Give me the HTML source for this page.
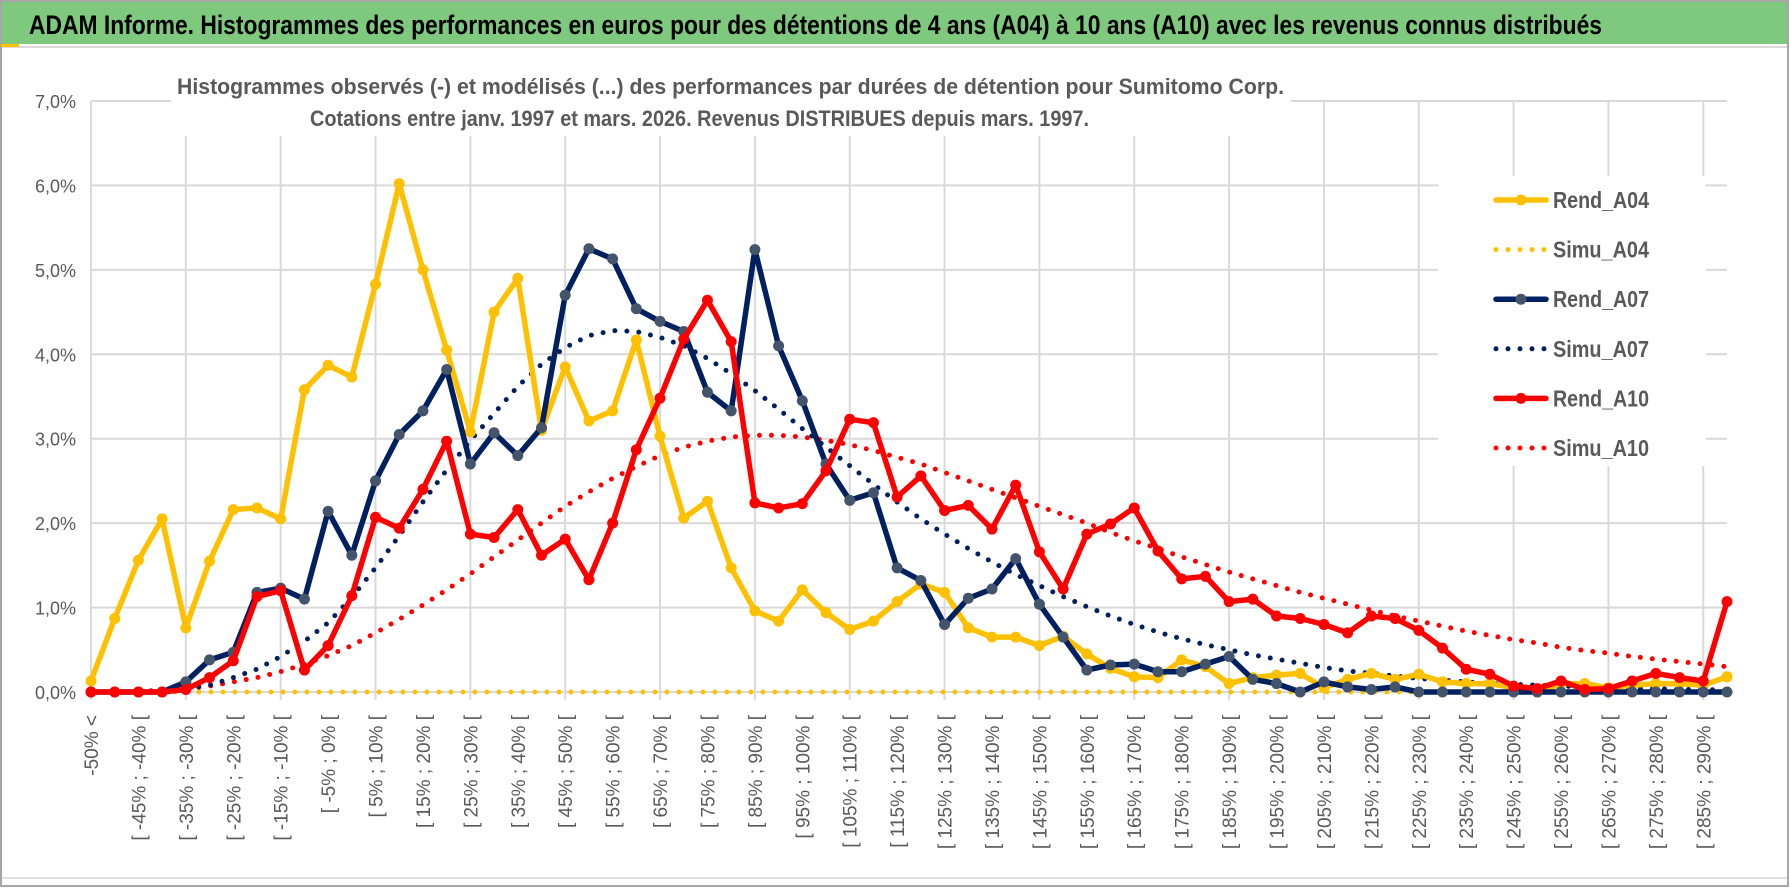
<!DOCTYPE html>
<html><head><meta charset="utf-8">
<style>
html,body{margin:0;padding:0;background:#fff;}
svg{display:block;font-family:"Liberation Sans",sans-serif;}
</style></head>
<body>
<svg id="chart" width="1790" height="888" viewBox="0 0 1790 888" xmlns="http://www.w3.org/2000/svg">
  <rect x="0" y="0" width="1790" height="888" fill="#fff"/>
  <rect x="1" y="1" width="1787" height="885" fill="none" stroke="#a6a6a6" stroke-width="2"/>
  <rect x="2" y="2" width="1785" height="42" fill="#7fc97f"/>
  <line x1="2" y1="47" x2="1787" y2="47" stroke="#d9d9d9" stroke-width="2"/>
  <rect x="1" y="44" width="18" height="3" fill="#ffc000"/>
  <text x="29" y="34" font-size="27" font-weight="bold" fill="#000" textLength="1573" lengthAdjust="spacingAndGlyphs">ADAM Informe. Histogrammes des performances en euros pour des détentions de 4 ans (A04) à 10 ans (A10) avec les revenus connus distribués</text>
  <line x1="2" y1="878" x2="1787" y2="878" stroke="#e0e0e0" stroke-width="2"/>
  <g id="grid"></g>
  <g id="yticks"></g>
  <g id="xticks"></g>
  <rect x="171" y="58" width="1120" height="78" fill="#fff"/>
  <text x="177" y="94" font-size="22" font-weight="bold" fill="#595959" textLength="1107" lengthAdjust="spacingAndGlyphs">Histogrammes observés (-) et modélisés (...) des performances par durées de détention pour Sumitomo Corp.</text>
  <text x="310" y="126" font-size="22" font-weight="bold" fill="#595959" textLength="779" lengthAdjust="spacingAndGlyphs">Cotations entre janv. 1997 et mars. 2026. Revenus DISTRIBUES depuis mars. 1997.</text>
  <g id="series"></g>
  <g id="legend"></g>
</svg>
<script>
const yTicks = [0,1,2,3,4,5,6,7];
const binStarts = [-50,-45,-40,-35,-30,-25,-20,-15,-10,-5,0,5,10,15,20,25,30,35,40,45,50,55,60,65,70,75,80,85,90,95,100,105,110,115,120,125,130,135,140,145,150,155,160,165,170,175,180,185,190,195,200,205,210,215,220,225,230,235,240,245,250,255,260,265,270,275,280,285,290];
const rendA04 = [0.13,0.87,1.56,2.05,0.76,1.55,2.16,2.18,2.05,3.58,3.87,3.73,4.83,6.02,5.0,4.05,3.08,4.5,4.9,3.1,3.85,3.21,3.33,4.17,3.03,2.06,2.26,1.47,0.96,0.84,1.21,0.94,0.74,0.84,1.07,1.28,1.18,0.76,0.65,0.65,0.55,0.66,0.45,0.28,0.18,0.17,0.38,0.30,0.10,0.17,0.20,0.22,0.05,0.15,0.22,0.15,0.21,0.12,0.10,0.10,0.05,0.0,0.10,0.10,0.05,0.08,0.10,0.10,0.08,0.18];
const simuA04 = [0,0,0,0,0,0,0,0,0,0,0,0,0,0,0,0,0,0,0,0,0,0,0,0,0,0,0,0,0,0,0,0,0,0,0,0,0,0,0,0,0,0,0,0,0,0,0,0,0,0,0,0,0,0,0,0,0,0,0,0,0,0,0,0,0,0,0,0,0,0];
const rendA07 = [0,0,0,0,0.12,0.38,0.47,1.18,1.23,1.1,2.14,1.62,2.5,3.05,3.33,3.82,2.7,3.07,2.8,3.13,4.7,5.25,5.13,4.54,4.39,4.27,3.55,3.33,5.24,4.1,3.45,2.7,2.27,2.36,1.47,1.32,0.8,1.11,1.22,1.58,1.04,0.65,0.26,0.32,0.33,0.24,0.24,0.33,0.42,0.15,0.10,0.0,0.12,0.06,0.03,0.06,0,0,0,0,0,0,0,0,0,0,0,0,0,0];
const simuA07 = [0,0,0,0.01,0.04,0.08,0.17,0.27,0.42,0.6,0.82,1.12,1.47,1.85,2.25,2.63,2.98,3.3,3.62,3.88,4.08,4.22,4.28,4.27,4.2,4.1,3.95,3.77,3.57,3.35,3.12,2.9,2.68,2.46,2.25,2.05,1.87,1.7,1.54,1.39,1.26,1.13,1.01,0.9,0.8,0.71,0.63,0.56,0.5,0.44,0.39,0.34,0.29,0.25,0.22,0.19,0.16,0.14,0.12,0.1,0.09,0.08,0.07,0.06,0.05,0.04,0.04,0.03,0.03,0.02];
const rendA10 = [0,0,0,0,0.03,0.17,0.37,1.13,1.2,0.26,0.55,1.14,2.07,1.94,2.4,2.97,1.87,1.83,2.16,1.62,1.81,1.33,2.0,2.87,3.48,4.18,4.64,4.15,2.24,2.18,2.23,2.62,3.23,3.19,2.31,2.56,2.15,2.21,1.93,2.45,1.66,1.22,1.87,1.99,2.18,1.67,1.34,1.37,1.07,1.1,0.9,0.87,0.8,0.7,0.9,0.87,0.73,0.52,0.27,0.21,0.07,0.04,0.13,0.03,0.04,0.13,0.22,0.17,0.13,1.07];
const simuA10 = [0,0,0.01,0.02,0.04,0.07,0.12,0.17,0.24,0.33,0.43,0.55,0.7,0.86,1.03,1.21,1.4,1.6,1.8,2.0,2.2,2.37,2.53,2.67,2.8,2.9,2.97,3.02,3.04,3.04,3.02,2.98,2.93,2.86,2.78,2.7,2.6,2.5,2.4,2.3,2.2,2.1,2.0,1.89,1.79,1.7,1.6,1.51,1.42,1.34,1.26,1.18,1.11,1.04,0.97,0.9,0.84,0.78,0.72,0.67,0.62,0.58,0.53,0.49,0.46,0.42,0.39,0.36,0.33,0.3];

const NS = "http://www.w3.org/2000/svg";
const X0 = 91, X1 = 1727, Y0 = 692, Y7 = 101;
const categories = ["-50% <"];
for (let i = 1; i < binStarts.length; i++) categories.push("[ " + binStarts[i-1] + "% ; " + binStarts[i] + "% [");
categories.push("[ 290% ; 295% [");
const n = rendA04.length;
function xPos(i){ return X0 + i * (X1 - X0) / (n - 1); }
function yPos(v){ return Y0 - v * (Y0 - Y7) / 7; }
function mk(tag, attrs, parent){ const e = document.createElementNS(NS, tag); for (const k in attrs) e.setAttribute(k, attrs[k]); parent.appendChild(e); return e; }

const grid = document.getElementById('grid');
yTicks.forEach(t => {
  const l = mk('line', {x1:X0, x2:X1, y1:yPos(t), y2:yPos(t), stroke:'#d9d9d9', 'stroke-width':2}, grid);
  
  
});
for (let i = 0; i < n; i += 4) {
  const l = mk('line', {x1:xPos(i), x2:xPos(i), y1:Y7, y2:Y0 + 8, stroke:'#d9d9d9', 'stroke-width':2}, grid);
  
  
}
const yt = document.getElementById('yticks');
yTicks.forEach(t => {
  const e = mk('text', {x:76, y:yPos(t) + 7, 'text-anchor':'end', 'font-size':18, fill:'#595959'}, yt);
  e.textContent = t.toFixed(1).replace('.', ',') + '%';
  
  
});
const xt = document.getElementById('xticks');
for (let i = 0; i < n; i += 2) {
  const x = xPos(i) + 7, y = 715;
  const e = mk('text', {x:x, y:y, transform:'rotate(-90 ' + x + ' ' + y + ')', 'text-anchor':'end', 'font-size':19, fill:'#595959'}, xt);
  e.textContent = categories[i];
  
  
}

const seriesG = document.getElementById('series');
function pts(arr){ return arr.map((v, i) => xPos(i).toFixed(1) + ',' + yPos(v).toFixed(1)).join(' '); }
function dotted(arr, color, name){
  const p = mk('polyline', {points:pts(arr), fill:'none', stroke:color, 'stroke-width':5, 'stroke-dasharray':'0 12', 'stroke-linecap':'round'}, seriesG);
  
  
}
function solid(arr, color, mcolor, name){
  const p = mk('polyline', {points:pts(arr), fill:'none', stroke:color, 'stroke-width':5.5, 'stroke-linejoin':'round'}, seriesG);
  
  
  arr.forEach((v, i) => {
    const c = mk('circle', {cx:xPos(i), cy:yPos(v), r:5.5, fill:mcolor}, seriesG);
    
    
  });
}
dotted(simuA04, '#ffc000', 'simu-a04-line');
dotted(simuA10, '#ff0000', 'simu-a10-line');
dotted(simuA07, '#002060', 'simu-a07-line');
solid(rendA04, '#ffc000', '#ffc000', 'rend-a04-line');
solid(rendA07, '#002060', '#44546a', 'rend-a07-line');
solid(rendA10, '#ff0000', '#ff0000', 'rend-a10-line');

const lg = document.getElementById('legend');
const bg = mk('rect', {x:1438, y:176, width:268, height:290, fill:'#fff'}, lg);


const legendNames = ['Rend_A04','Simu_A04','Rend_A07','Simu_A07','Rend_A10','Simu_A10'];
const legendColors = ['#ffc000','#ffc000','#002060','#002060','#ff0000','#ff0000'];
const legendMarker = ['#ffc000','','#44546a','','#ff0000',''];
legendNames.forEach((nm, k) => {
  const y = 200 + k * 49.6;
  if (k % 2 === 0) {
    const l = mk('line', {x1:1496, x2:1546, y1:y, y2:y, stroke:legendColors[k], 'stroke-width':5.5, 'stroke-linecap':'round'}, lg);
    
    
    const c = mk('circle', {cx:1521, cy:y, r:5.5, fill:legendMarker[k]}, lg);
    
    
  } else {
    const l = mk('line', {x1:1496, x2:1546, y1:y, y2:y, stroke:legendColors[k], 'stroke-width':5, 'stroke-dasharray':'0 12', 'stroke-linecap':'round'}, lg);
    
    
  }
  const t = mk('text', {x:1553, y:y + 8, 'font-size':23, 'font-weight':'bold', fill:'#595959', textLength:96, lengthAdjust:'spacingAndGlyphs'}, lg);
  t.textContent = nm;
  
  
});
</script>
</body></html>
